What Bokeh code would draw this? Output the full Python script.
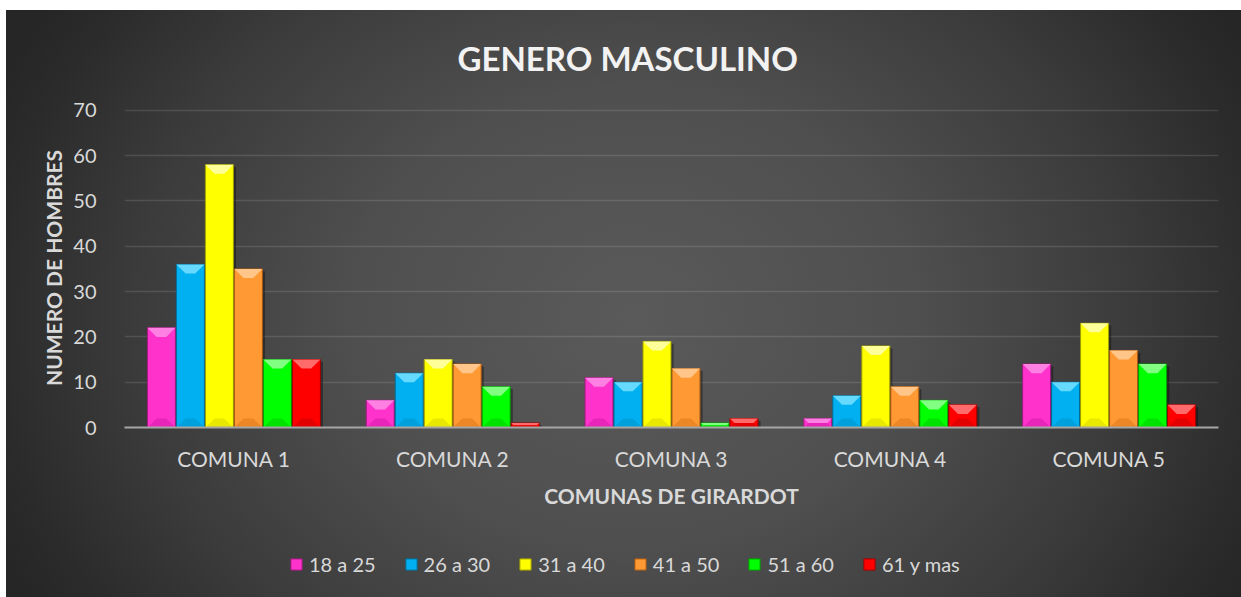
from bokeh.plotting import figure
from bokeh.layouts import column
from bokeh.models import ColumnDataSource, FactorRange, Range1d, Legend, LegendItem, FixedTicker
from bokeh.transform import dodge
from bokeh.embed import file_html
from bokeh.resources import INLINE

# ---------------- data ----------------
comunas = ["COMUNA 1", "COMUNA 2", "COMUNA 3", "COMUNA 4", "COMUNA 5"]
age_groups = ["18 a 25", "26 a 30", "31 a 40", "41 a 50", "51 a 60", "61 y mas"]
v_18_25 = [22, 6, 11, 2, 14]
v_26_30 = [36, 12, 10, 7, 10]
v_31_40 = [58, 15, 19, 18, 23]
v_41_50 = [35, 14, 13, 9, 17]
v_51_60 = [15, 9, 1, 6, 14]
v_61_mas = [15, 1, 2, 5, 5]
y_ticks = [0, 10, 20, 30, 40, 50, 60, 70]

title_text = "GENERO MASCULINO"
x_title = "COMUNAS DE GIRARDOT"
y_title = "NUMERO DE HOMBRES"

series = [v_18_25, v_26_30, v_31_40, v_41_50, v_51_60, v_61_mas]

# ---------------- styles ----------------
fill_colors = ["#FF33CC", "#00B0F0", "#FFFF00", "#FF9933", "#00FF00", "#FF0000"]
top_colors = ["#FF80E3", "#66D9FF", "#FFFF99", "#FFC589", "#80FF80", "#FF6A6A"]
bottom_colors = ["#D81CAC", "#0096CF", "#D9D900", "#DE7C1C", "#00D000", "#D00000"]
edge_colors = ["#9E1A7E", "#006E99", "#9E9E00", "#A85A12", "#009E00", "#9E0000"]

FONT = "Lato"
TXT = "#D9D9D9"
W = 1241
H_MAIN, H_LEG = 545, 52
BAR_STEP = 0.1325
BAR_W = 0.128
BEV_X = 0.042   # bevel horizontal size in category units (~9px)
BEV_Y = 2.0     # bevel vertical size in value units (~9px)

p = figure(width=W, height=H_MAIN,
           x_range=FactorRange(factors=comunas), y_range=Range1d(0, 70.4),
           output_backend="svg", toolbar_location=None,
           min_border_left=124, min_border_right=23,
           min_border_top=108, min_border_bottom=118)
p.background_fill_color = None
p.border_fill_color = None
p.outline_line_color = None

# title
p.title.text = title_text
p.title.text_font = FONT
p.title.text_font_style = "bold"
p.title.text_font_size = "33px"
p.title.text_color = "#F2F2F2"
p.title.align = "left"
p.title.offset = 333
p.title.standoff = 62

# grid
p.xgrid.grid_line_color = None
p.ygrid.grid_line_color = "#FFFFFF"
p.ygrid.grid_line_alpha = 0.12
p.ygrid.grid_line_width = 1.5

# axes
p.yaxis.ticker = FixedTicker(ticks=y_ticks)
p.yaxis.axis_line_color = None
p.yaxis.major_tick_line_color = None
p.yaxis.minor_tick_line_color = None
p.yaxis.major_label_standoff = 22
p.yaxis.major_label_text_font = FONT
p.yaxis.major_label_text_font_size = "20px"
p.yaxis.major_label_text_color = TXT
p.yaxis.axis_label = y_title
p.yaxis.axis_label_text_font = FONT
p.yaxis.axis_label_text_font_style = "bold"
p.yaxis.axis_label_text_font_size = "21px"
p.yaxis.axis_label_text_color = TXT
p.yaxis.axis_label_standoff = 4

p.xaxis.axis_line_color = "#A6A6A6"
p.xaxis.axis_line_width = 2
p.xaxis.major_tick_line_color = None
p.xaxis.minor_tick_line_color = None
p.xaxis.major_label_standoff = 12
p.xaxis.major_label_text_font = FONT
p.xaxis.major_label_text_font_size = "21px"
p.xaxis.major_label_text_color = TXT
p.xaxis.axis_label = x_title
p.xaxis.axis_label_text_font = FONT
p.xaxis.axis_label_text_font_style = "bold"
p.xaxis.axis_label_text_font_size = "21px"
p.xaxis.axis_label_text_color = TXT
p.xaxis.axis_label_standoff = 9

# legend strip: a second canvas below the chart (frames are aligned by the
# column layout).  Its y range lies far above all values, so its bars stay
# hidden below the page edge and only serve as legend keys.
pl = figure(width=W, height=H_LEG, x_range=p.x_range, y_range=Range1d(100000, 100001),
            output_backend="svg", toolbar_location=None,
            x_axis_type=None, y_axis_type=None,
            min_border_left=0, min_border_right=0, min_border_top=0, min_border_bottom=0)
pl.background_fill_color = None
pl.border_fill_color = None
pl.outline_line_color = None
pl.xgrid.grid_line_color = None
pl.ygrid.grid_line_color = None

# bars
items = []
n = len(series)
for k, vals in enumerate(series):
    off = (k - (n - 1) / 2) * BAR_STEP
    src = ColumnDataSource(dict(comuna=comunas, value=vals,
                                shadow=[max(v - 0.5, 0) for v in vals]))
    # soft shadow
    p.vbar(x=dodge("comuna", off + 0.012, range=p.x_range), top="shadow", width=BAR_W,
           source=src, fill_color="black", fill_alpha=0.35, line_color=None)
    p.vbar(x=dodge("comuna", off, range=p.x_range), top="value", width=BAR_W,
           source=src, fill_color=fill_colors[k], line_color=edge_colors[k], line_width=1)
    # bevel faces (derived from the data values)
    txs, tys, bxs, bys = [], [], [], []
    for i, v in enumerate(vals):
        c = i + 0.5 + off
        L, R = c - BAR_W / 2, c + BAR_W / 2
        h = min(BEV_Y, v / 2.0)
        ix = BEV_X * h / BEV_Y
        txs.append([L, R, R - ix, L + ix])
        tys.append([v, v, v - h, v - h])
        bxs.append([L, R, R - ix, L + ix])
        bys.append([0, 0, h, h])
    p.patches(txs, tys, fill_color=top_colors[k], line_color=None)
    p.patches(bxs, bys, fill_color=bottom_colors[k], line_color=None, fill_alpha=0.6)
    # legend key renderer in the legend strip
    lr = pl.vbar(x=dodge("comuna", off, range=p.x_range), top="value", width=BAR_W,
                 source=src, fill_color=fill_colors[k], line_color=edge_colors[k], line_width=1)
    items.append(LegendItem(label=age_groups[k], renderers=[lr]))

legend = Legend(items=items, orientation="horizontal", location=(165, 21),
                background_fill_alpha=0, border_line_color=None,
                label_text_font=FONT, label_text_font_size="20px", label_text_color=TXT,
                glyph_width=14, glyph_height=14, label_standoff=6, spacing=28,
                padding=4, margin=0)
pl.add_layout(legend)

layout = column(p, pl, spacing=0)
layout.styles = {"background": ("linear-gradient(to bottom, #ffffff 10px, rgba(255,255,255,0) 10px), "
                                "linear-gradient(to right, #ffffff 6px, rgba(255,255,255,0) 6px), "
                                "radial-gradient(ellipse 56% 95% at 51% 53%, #5a5a5a 0%, #4f4f4f 40%, "
                                "#3b3b3b 72%, #2b2b2b 92%, #262626 100%)")}

open("out.html", "w").write(file_html(layout, INLINE))
